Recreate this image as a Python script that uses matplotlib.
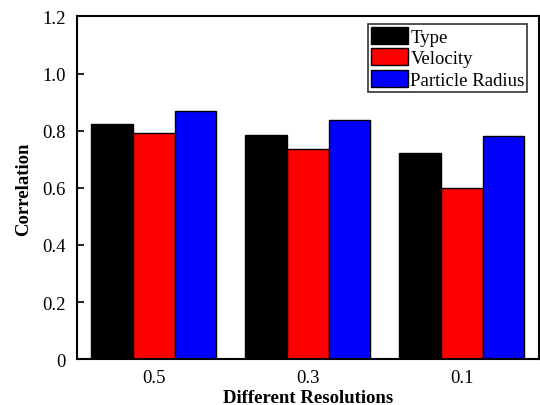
import numpy as np
import matplotlib.pyplot as plt

plt.rcParams['font.family'] = ['Liberation Serif', 'DejaVu Serif']

resolutions = ['0.5', '0.3', '0.1']
series = ['Type', 'Velocity', 'Particle Radius']
type_corr = [0.825, 0.785, 0.723]
velocity_corr = [0.792, 0.735, 0.601]
radius_corr = [0.869, 0.839, 0.783]
colors = ['#000000', '#ff0000', '#0000ff']

fig = plt.figure(figsize=(5.4, 4.06), dpi=100)
ax = fig.add_axes([0.142, 0.113, 0.856, 0.844])

x = np.arange(len(resolutions))
w = 0.27
for i, (vals, name) in enumerate(zip([type_corr, velocity_corr, radius_corr], series)):
    ax.bar(x + (i - 1) * w, vals, w, color=colors[i], edgecolor='black',
           linewidth=1.0, label=name)

ax.set_xlim(-0.5, 2.5)
ax.set_ylim(0, 1.2)
ax.set_yticks([0, 0.2, 0.4, 0.6, 0.8, 1.0, 1.2])
ax.set_yticklabels(['0', '0.2', '0.4', '0.6', '0.8', '1.0', '1.2'])
ax.set_xticks(x)
ax.set_xticklabels(resolutions)
ax.tick_params(axis='y', direction='in', length=5, width=1.2, labelsize=13.5, pad=8)
ax.tick_params(axis='x', length=0, labelsize=13.5, pad=7)
for s in ax.spines.values():
    s.set_linewidth(1.5)

ax.set_xlabel('Different Resolutions', fontsize=13.5, fontweight='bold', labelpad=2)
ax.set_ylabel('Correlation', fontsize=13.5, fontweight='bold', labelpad=7)

leg = ax.legend(loc='upper right', bbox_to_anchor=(0.975, 0.978), fontsize=13.5,
                frameon=True, fancybox=False, edgecolor='black',
                handlelength=2.0, handleheight=1.0, handletextpad=0.1,
                labelspacing=0.15, borderpad=0.15, borderaxespad=0)
leg.get_frame().set_linewidth(1.2)

fig.savefig('out.png', dpi=100)
